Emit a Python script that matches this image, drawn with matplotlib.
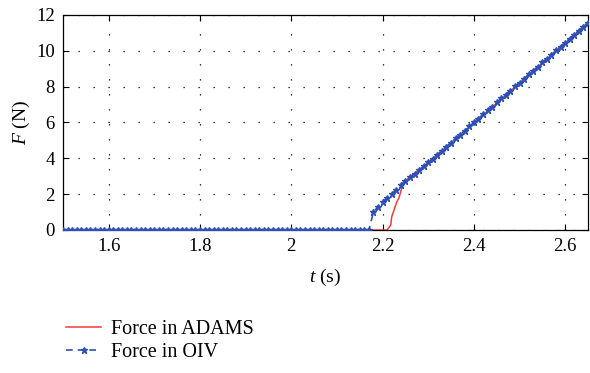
import numpy as np
import matplotlib
matplotlib.use("Agg")
import matplotlib.pyplot as plt

plt.rcParams['font.family'] = ['Liberation Serif', 'DejaVu Serif']
plt.rcParams['mathtext.fontset'] = 'custom'
plt.rcParams['mathtext.it'] = 'Liberation Serif:italic'
plt.rcParams['mathtext.rm'] = 'Liberation Serif'

# Force in ADAMS (t, F)
t_adams = [1.50, 2.210, 2.218, 2.220, 2.231, 2.236, 2.242, 2.245, 2.247,
           2.30, 2.40, 2.50, 2.60, 2.65]
f_adams = [0.0, 0.0, 0.28, 0.73, 1.56, 1.80, 2.34, 2.60, 2.70,
           3.75, 5.97, 8.20, 10.43, 11.55]

# Force in OIV, sampled every 0.01 s from 1.50 to 2.65
t_oiv = np.round(np.arange(1.50, 2.655, 0.01), 2)
f_oiv = [0.0] * 68 + [
    1.00, 1.30, 1.55, 1.80, 2.00, 2.25, 2.50, 2.75, 2.95, 3.15, 3.35,
    3.55, 3.77, 3.99, 4.21, 4.43, 4.66, 4.88, 5.11, 5.33, 5.55, 5.78,
    6.00, 6.22, 6.45, 6.67, 6.89, 7.12, 7.34, 7.56, 7.78, 8.01, 8.23,
    8.45, 8.68, 8.90, 9.12, 9.35, 9.57, 9.79, 10.02, 10.24, 10.46,
    10.68, 10.91, 11.13, 11.35, 11.58]

x_ticks = [1.6, 1.8, 2.0, 2.2, 2.4, 2.6]
x_labels = ['1.6', '1.8', '2', '2.2', '2.4', '2.6']
y_ticks = [0, 2, 4, 6, 8, 10, 12]

fig = plt.figure(figsize=(5.9, 3.73), dpi=100)
ax = fig.add_axes([63/590, 1 - 230/373, (588-63)/590, 215/373])

red = '#f23c3c'
blue = '#2e4fb3'
ax.plot(t_adams, f_adams, color=red, lw=1.1, label='Force in ADAMS', zorder=3)
ax.plot(t_oiv, f_oiv, color=blue, lw=1.2, ls=(0, (4, 3)), marker='*',
        markersize=5, markeredgewidth=1.0, label='Force in OIV', zorder=4)

ax.set_xlim(1.5, 2.65)
ax.set_ylim(0, 12)
ax.set_xticks(x_ticks)
ax.set_xticklabels(x_labels)
ax.set_yticks(y_ticks)
ax.tick_params(direction='in', top=True, right=True, length=4, width=0.8,
               labelsize=13.5, pad=6)
ax.grid(True, color='black', linestyle=(0, (1, 11)), linewidth=0.9)
for s in ax.spines.values():
    s.set_linewidth(0.9)

ax.set_xlabel(r'$t$ (s)', fontsize=14, labelpad=8)
ax.set_ylabel(r'$F$ (N)', fontsize=14, labelpad=3)

leg = fig.legend(loc='upper left', bbox_to_anchor=(48/590, 1 - 302/373),
                 frameon=False, fontsize=14.5, handlelength=1.75,
                 handletextpad=0.5, labelspacing=0.2)

fig.savefig('out.png', dpi=100)
